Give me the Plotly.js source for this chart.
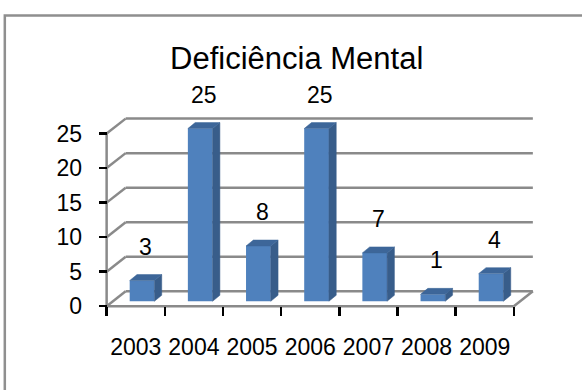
<!DOCTYPE html>
<html>
<head>
<meta charset="utf-8">
<script src="https://cdn.plot.ly/plotly-3.0.1.min.js"></script>
<style>
  html, body { margin: 0; padding: 0; background: #fff; }
  #chart { width: 582px; height: 390px; }
</style>
</head>
<body>
<div id="chart"></div>
<script>
// ---- data ----
const chartTitle = 'Deficiência Mental';
const categories = ['2003', '2004', '2005', '2006', '2007', '2008', '2009'];
const values = [3, 25, 8, 25, 7, 1, 4];
const yTickValues = [0, 5, 10, 15, 20, 25];

// ---- geometry (pixel scale of the pseudo-3D frame) ----
const W = 582, H = 390;
const PXX = 58.1;          // px per category
const PXY = 6.93;          // px per value unit
const X0 = -0.7, X1 = 6.95, Y0 = -0.4, Y1 = 28.7;
const AXIS_LEFT_PX = 106.7, FLOOR_PX = 306.7;
const mL = AXIS_LEFT_PX - (-0.5 - X0) * PXX;
const plotW = (X1 - X0) * PXX;
const mR = W - mL - plotW;
const bottomPx = FLOOR_PX + (0 - Y0) * PXY;
const mB = H - bottomPx;
const plotH = (Y1 - Y0) * PXY;
const mT = bottomPx - plotH;

const DX = 19 / PXX, DY = 15 / PXY;          // wall depth
const BFX = 6.33 / PXX, BFY = 5 / PXY;       // bar front face position in depth
const BW = 24.7 / PXX;                       // bar width
const BDX = 7.3 / PXX, BDY = 6 / PXY;        // bar depth
const barOffset = -BW / 2 + BFX;

const n = categories.length;
const idx = categories.map((_, i) => i);
const xLeft = -0.5, xRight = n - 0.5;
const yTop = yTickValues[yTickValues.length - 1];

const FRONT = '#4F81BD', SIDE = '#385D8A', TOP = '#3D6699';
const GRID = '#8a8a8a';
const FONT = 'Liberation Sans, Arial, sans-serif';
const LABEL_SIZE = 23;

// ---- wall / floor lines as shapes below the traces ----
const shapes = [];
const gl = (x0, y0, x1, y1) => ({
  type: 'line', xref: 'x', yref: 'y', x0, y0, x1, y1,
  line: { color: GRID, width: 2.5 }, layer: 'below'
});
yTickValues.forEach(v => {
  shapes.push(gl(xLeft + DX, v + DY, xRight + DX, v + DY));   // back wall
  shapes.push(gl(xLeft, v, xLeft + DX, v + DY));              // side wall
});
shapes.push(gl(xLeft, 0, xLeft, yTop));                       // front value axis
shapes.push(gl(xLeft, 0, xRight, 0));                         // floor front edge
shapes.push(gl(xRight, 0, xRight + DX, DY));                  // floor right edge

// chart-area border (left and top edges)
const px2paperX = px => (px - mL) / plotW;
const px2paperY = py => (bottomPx - py) / plotH;
shapes.push({
  type: 'path', xref: 'paper', yref: 'paper',
  path: 'M ' + px2paperX(5) + ' ' + px2paperY(H + 10) +
        ' L ' + px2paperX(5) + ' ' + px2paperY(15) +
        ' L ' + px2paperX(W + 10) + ' ' + px2paperY(15),
  line: { color: '#8f8f8f', width: 2.5 }, layer: 'above'
});

// ---- traces ----
const traces = [];
traces.push({
  type: 'bar', x: idx, y: values, base: BFY,
  width: BW, offset: barOffset,
  marker: { color: FRONT, line: { width: 0 } },
  hoverinfo: 'skip', showlegend: false
});
values.forEach((v, i) => {
  const L = i + barOffset, R = L + BW, b = BFY, T = BFY + v;
  traces.push({
    type: 'scatter', mode: 'lines', fill: 'toself', fillcolor: SIDE,
    x: [R, R + BDX, R + BDX, R, R], y: [b, b + BDY, T + BDY, T, b],
    line: { color: SIDE, width: 0.5 }, hoverinfo: 'skip', showlegend: false
  });
  traces.push({
    type: 'scatter', mode: 'lines', fill: 'toself', fillcolor: TOP,
    x: [L, L + BDX, R + BDX, R, L], y: [T, T + BDY, T + BDY, T, T],
    line: { color: TOP, width: 0.5 }, hoverinfo: 'skip', showlegend: false
  });
});

// ---- data labels ----
const annotations = values.map((v, i) => ({
  x: i + BFX + BDX / 2, y: BFY + v, xref: 'x', yref: 'y',
  text: String(v), showarrow: false, yshift: 34,
  xanchor: 'center', yanchor: 'middle',
  font: { family: FONT, size: LABEL_SIZE, color: '#000' }
}));

const boundaries = idx.map(i => i - 0.5).concat([n - 0.5]);

const layout = {
  width: W, height: H,
  margin: { l: mL, r: mR, t: mT, b: mB, pad: 0 },
  paper_bgcolor: '#fff', plot_bgcolor: 'rgba(0,0,0,0)',
  showlegend: false, hovermode: false,
  title: {
    text: chartTitle, xref: 'container', yref: 'container',
    x: 296.7 / W, xanchor: 'center', y: 1 - 58 / H, yanchor: 'middle',
    font: { family: FONT, size: 31, color: '#000' }
  },
  xaxis: {
    type: 'linear', range: [X0, X1], anchor: 'free',
    position: (0 - Y0) / (Y1 - Y0),
    showgrid: false, zeroline: false, showline: false,
    tickmode: 'array', tickvals: idx, ticktext: categories,
    ticks: '', ticklabelstandoff: 25,
    tickfont: { family: FONT, size: LABEL_SIZE, color: '#000' },
    minor: {
      tickmode: 'array', tickvals: boundaries, ticks: 'outside',
      ticklen: 9, tickwidth: 2.5, tickcolor: '#000', showgrid: false
    },
    automargin: false, fixedrange: true
  },
  yaxis: {
    type: 'linear', range: [Y0, Y1], anchor: 'free',
    position: (xLeft - X0) / (X1 - X0),
    showgrid: false, zeroline: false, showline: false,
    tickmode: 'array', tickvals: yTickValues,
    ticks: 'outside', ticklen: 8, tickwidth: 2.5, tickcolor: '#000',
    ticklabelstandoff: 12,
    tickfont: { family: FONT, size: LABEL_SIZE, color: '#000' },
    automargin: false, fixedrange: true
  },
  shapes, annotations
};

Plotly.newPlot('chart', traces, layout, { displayModeBar: false, staticPlot: true });
</script>
</body>
</html>
